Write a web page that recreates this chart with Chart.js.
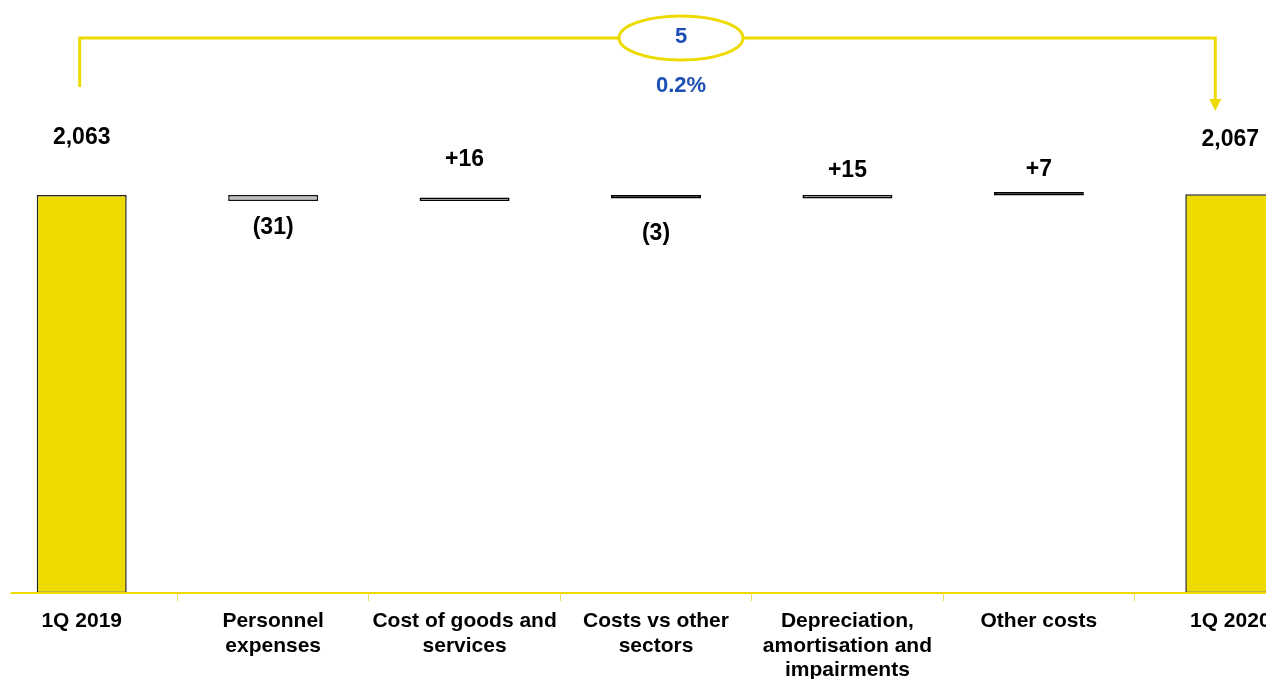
<!DOCTYPE html>
<html>
<head>
<meta charset="utf-8">
<script src="https://cdn.jsdelivr.net/npm/chart.js@4.4.1/dist/chart.umd.min.js"></script>
<style>
  html, body { margin: 0; padding: 0; background: #fff; overflow: hidden; }
  #wrap { position: absolute; left: -14px; top: 0; width: 1340px; height: 679px; }
</style>
</head>
<body>
<div id="wrap"><canvas id="bridgeChart"></canvas></div>
<script>
// bridge 1Q 2019 -> 1Q 2020
const categories = [
  '1Q 2019',
  ['Personnel', 'expenses'],
  ['Cost of goods and', 'services'],
  ['Costs vs other', 'sectors'],
  ['Depreciation,', 'amortisation and', 'impairments'],
  'Other costs',
  '1Q 2020'
];
const startTotal = 2063;
const deltas = [-31, 16, -3, 15, 7];
const endTotal = 2067;
const changeLabel = '5';
const changePct = '0.2%';

const YELLOW = '#EDDB00';
const BLUE = '#1D4FB5';
const FONT = "'Liberation Sans', Arial, sans-serif";

// floating bars: running total
const ranges = [[0, startTotal]];
let running = startTotal;
deltas.forEach(d => {
  const next = running + d;
  ranges.push([Math.min(running, next), Math.max(running, next)]);
  running = next;
});
ranges.push([0, endTotal]);

const fmtTotal = v => v.toLocaleString('en-US');
const fmtDelta = v => v < 0 ? '(' + Math.abs(v) + ')' : '+' + v;
const valueLabels = [fmtTotal(startTotal)].concat(deltas.map(fmtDelta), [fmtTotal(endTotal)]);

const barFill = [YELLOW, '#C0C0C0', '#B4B4B4', '#000000', '#B4B4B4', '#000000', YELLOW];
const barEdge = ['#222222', '#111111', '#000000', '#000000', '#000000', '#000000', '#222222'];
const labelGap = [57, 27, 38, 35, 24, 22, 55];

const bridgePlugin = {
  id: 'bridge',
  afterDatasetsDraw(chart) {
    const ctx = chart.ctx;
    const bars = chart.getDatasetMeta(0).data;
    const area = chart.chartArea;
    ctx.save();

    // axis line
    ctx.strokeStyle = YELLOW;
    ctx.lineWidth = 2;
    ctx.beginPath();
    ctx.moveTo(bars[0].x - 71, area.bottom);
    ctx.lineTo(chart.width, area.bottom);
    ctx.stroke();

    // value labels
    ctx.fillStyle = '#000';
    ctx.font = 'bold 23px ' + FONT;
    ctx.textAlign = 'center';
    ctx.textBaseline = 'middle';
    bars.forEach((bar, i) => {
      const top = Math.min(bar.y, bar.base);
      const bottom = Math.max(bar.y, bar.base);
      const below = i > 0 && i < bars.length - 1 && deltas[i - 1] < 0;
      const y = below ? bottom + labelGap[i] : top - labelGap[i];
      ctx.fillText(valueLabels[i], bar.x, y);
    });

    // bracket with arrow
    const lx = bars[0].x - 2;
    const rx = bars[bars.length - 1].x - 15;
    const ty = 38;
    ctx.strokeStyle = YELLOW;
    ctx.lineWidth = 3;
    ctx.beginPath();
    ctx.moveTo(lx, 87);
    ctx.lineTo(lx, ty);
    ctx.lineTo(rx, ty);
    ctx.lineTo(rx, 101);
    ctx.stroke();
    ctx.fillStyle = YELLOW;
    ctx.beginPath();
    ctx.moveTo(rx - 6, 99);
    ctx.lineTo(rx + 6, 99);
    ctx.lineTo(rx, 111);
    ctx.closePath();
    ctx.fill();

    // ellipse with total change
    const ex = bars[3].x + 25;
    ctx.beginPath();
    ctx.ellipse(ex, ty, 62, 22, 0, 0, Math.PI * 2);
    ctx.fillStyle = '#fff';
    ctx.fill();
    ctx.stroke();
    ctx.fillStyle = BLUE;
    ctx.font = 'bold 22px ' + FONT;
    ctx.fillText(changeLabel, ex, ty - 1);
    ctx.fillText(changePct, ex, 86);

    ctx.restore();
  }
};

const ctx = document.getElementById('bridgeChart').getContext('2d');
new Chart(ctx, {
  type: 'bar',
  data: {
    labels: categories,
    datasets: [{
      data: ranges,
      backgroundColor: barFill,
      borderColor: barEdge,
      borderWidth: 1.5,
      borderSkipped: false,
      barPercentage: 0.47,
      categoryPercentage: 1,
      minBarLength: 3.5
    }]
  },
  options: {
    responsive: true,
    maintainAspectRatio: false,
    animation: false,
    layout: { padding: { top: 130, left: 0, right: 0, bottom: 0 } },
    scales: {
      x: {
        offset: true,
        grid: { offset: true, drawOnChartArea: false, drawTicks: true, tickLength: 8, color: '#EBDD55', lineWidth: 1 },
        border: { display: false },
        ticks: {
          color: '#000',
          font: { family: FONT, size: 21, weight: 'bold', lineHeight: 1.17 },
          padding: 8,
          maxRotation: 0,
          autoSkip: false
        },
        afterFit(scale) { scale.height = 86; }
      },
      y: { display: false, min: 0, max: 2400 }
    },
    plugins: { legend: { display: false }, tooltip: { enabled: false } }
  },
  plugins: [bridgePlugin]
});
</script>
</body>
</html>
